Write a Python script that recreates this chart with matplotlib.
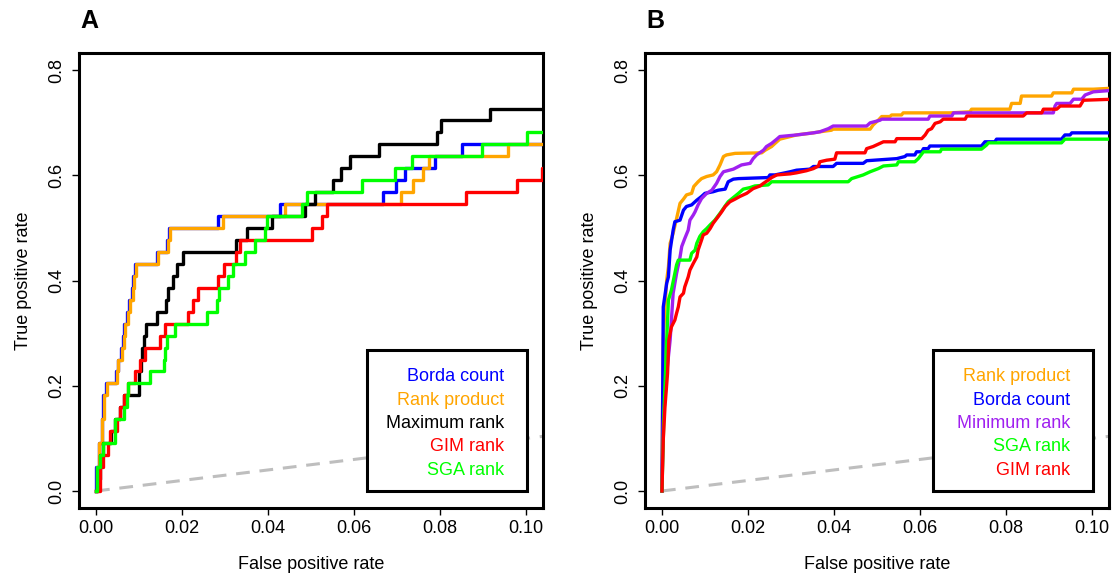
"""Two ROC panels comparing rank aggregation methods (low false positive region)."""

import matplotlib

matplotlib.use("Agg")
import matplotlib.pyplot as plt
import numpy as np
from matplotlib.patches import Rectangle

plt.rcParams["font.family"] = ["Liberation Sans", "DejaVu Sans"]

# ---------------- panel A: step curves, hits out of 44 positives ----------------
N_POS_A = 44

a_borda_fpr = [0, 0.0001, 0.0006, 0.0013, 0.0017, 0.0023, 0.0046, 0.0050, 0.0058, 0.0062, 0.0065,
               0.0072, 0.0076, 0.0083, 0.0087, 0.0091, 0.0143, 0.0166, 0.0170, 0.0284, 0.0428,
               0.0668, 0.0698, 0.0719, 0.0788, 0.0850, 0.105]
a_borda_hits = [0, 2, 4, 6, 8, 9, 10, 11, 12, 13, 14, 15, 16, 17, 18, 19, 20, 21, 22, 23, 24,
                25, 26, 27, 28, 29, 29]

a_rankprod_fpr = [0, 0.0003, 0.0008, 0.0015, 0.0019, 0.0025, 0.0048, 0.0052, 0.0060, 0.0064, 0.0067,
                  0.0074, 0.0078, 0.0085, 0.0089, 0.0093, 0.0145, 0.0168, 0.0172, 0.0296, 0.0440,
                  0.0709, 0.0738, 0.0760, 0.0774, 0.0959, 0.105]
a_rankprod_hits = [0, 2, 4, 6, 8, 9, 10, 11, 12, 13, 14, 15, 16, 17, 18, 19, 20, 21, 22, 23, 24,
                   25, 26, 27, 28, 29, 29]

a_maxrank_fpr = [0, 0.0004, 0.0010, 0.0017, 0.0036, 0.0045, 0.0056, 0.0064, 0.0101, 0.0104, 0.0108,
                 0.0112, 0.0116, 0.0141, 0.0163, 0.0168, 0.0178, 0.0189, 0.0202, 0.0325, 0.0352,
                 0.0409, 0.0486, 0.0510, 0.0552, 0.0569, 0.0590, 0.0657, 0.0792, 0.0802, 0.0916, 0.105]
a_maxrank_hits = [0, 1, 3, 4, 5, 6, 7, 8, 10, 11, 12, 13, 14, 15, 16, 17, 18, 19, 20, 21, 22,
                  23, 24, 25, 26, 27, 28, 29, 30, 31, 32, 32]

a_gim_fpr = [0, 0.0009, 0.0017, 0.0029, 0.0033, 0.0048, 0.0056, 0.0064, 0.0075, 0.0091, 0.0102,
             0.0114, 0.0149, 0.0160, 0.0215, 0.0226, 0.0238, 0.0284, 0.0298, 0.0326, 0.0335,
             0.0502, 0.0525, 0.0536, 0.0860, 0.0978, 0.1036, 0.105]
a_gim_hits = [0, 2, 3, 4, 5, 6, 7, 8, 9, 10, 11, 12, 13, 14, 15, 16, 17, 18, 19, 20, 21,
              22, 23, 24, 25, 26, 27, 27]

a_sga_fpr = [0, 0.0003, 0.0010, 0.0017, 0.0044, 0.0064, 0.0071, 0.0075, 0.0126, 0.0157, 0.0160,
             0.0166, 0.0184, 0.0257, 0.0281, 0.0287, 0.0307, 0.0319, 0.0347, 0.0370, 0.0393,
             0.0397, 0.0478, 0.0491, 0.0618, 0.0695, 0.0734, 0.0897, 0.1002, 0.105]
a_sga_hits = [0, 2, 3, 4, 6, 7, 8, 9, 10, 11, 12, 13, 14, 15, 16, 17, 18, 19, 20, 21, 22,
              23, 24, 25, 26, 27, 28, 29, 30, 30]

# ---------------- panel B: ROC vertices (fpr, tpr) ----------------
b_rankprod_fpr = [0, 0.0001, 0.0003, 0.0007, 0.0011, 0.0015, 0.0019, 0.0026, 0.0034, 0.0042, 0.0050,
                  0.0057, 0.0069, 0.0074, 0.0084, 0.0092, 0.0104, 0.0119, 0.0127, 0.0135, 0.0143,
                  0.0150, 0.0170, 0.0232, 0.0240, 0.0255, 0.0263, 0.0274, 0.0313, 0.0352, 0.0367,
                  0.0394, 0.0398, 0.0484, 0.0491, 0.0503, 0.0511, 0.0530, 0.0534, 0.0557, 0.0561,
                  0.0670, 0.0716, 0.0720, 0.0809, 0.0813, 0.0833, 0.0836, 0.0906, 0.0910, 0.0953,
                  0.0957, 0.1003, 0.105]
b_rankprod_tpr = [0, 0.129, 0.287, 0.350, 0.401, 0.426, 0.471, 0.490, 0.518, 0.547, 0.555,
                  0.563, 0.566, 0.579, 0.588, 0.594, 0.598, 0.601, 0.607, 0.620, 0.636,
                  0.639, 0.642, 0.643, 0.648, 0.655, 0.661, 0.669, 0.677, 0.681, 0.683,
                  0.686, 0.688, 0.688, 0.696, 0.705, 0.712, 0.712, 0.715, 0.715, 0.719,
                  0.719, 0.721, 0.726, 0.726, 0.737, 0.737, 0.751, 0.751, 0.757, 0.757,
                  0.764, 0.764, 0.766]

b_borda_fpr = [0, 0.0001, 0.0002, 0.0003, 0.0011, 0.0015, 0.0019, 0.0026, 0.0030, 0.0042, 0.0050,
               0.0057, 0.0069, 0.0081, 0.0092, 0.0100, 0.0119, 0.0131, 0.0147, 0.0154, 0.0166,
               0.0178, 0.0247, 0.0251, 0.0263, 0.0298, 0.0313, 0.0344, 0.0352, 0.0398, 0.0406,
               0.0468, 0.0476, 0.0546, 0.0565, 0.0569, 0.0588, 0.0592, 0.0604, 0.0608, 0.0619,
               0.0623, 0.0743, 0.0751, 0.0774, 0.0778, 0.0929, 0.0937, 0.0949, 0.0953, 0.105]
b_borda_tpr = [0, 0.097, 0.224, 0.350, 0.395, 0.407, 0.458, 0.496, 0.512, 0.515, 0.534,
               0.541, 0.544, 0.553, 0.560, 0.566, 0.569, 0.572, 0.574, 0.588, 0.593,
               0.594, 0.596, 0.601, 0.601, 0.607, 0.610, 0.612, 0.617, 0.617, 0.623,
               0.623, 0.628, 0.632, 0.636, 0.639, 0.639, 0.645, 0.645, 0.651, 0.651,
               0.656, 0.656, 0.664, 0.664, 0.669, 0.669, 0.677, 0.677, 0.681, 0.681]

b_minrank_fpr = [0, 0.0003, 0.0011, 0.0019, 0.0026, 0.0034, 0.0042, 0.0046, 0.0053, 0.0061, 0.0065,
                 0.0073, 0.0077, 0.0084, 0.0092, 0.0104, 0.0116, 0.0127, 0.0135, 0.0143, 0.0166,
                 0.0185, 0.0205, 0.0212, 0.0220, 0.0236, 0.0243, 0.0255, 0.0267, 0.0274, 0.0313,
                 0.0352, 0.0367, 0.0387, 0.0398, 0.0476, 0.0484, 0.0507, 0.0511, 0.0619, 0.0623,
                 0.0674, 0.0678, 0.0910, 0.0914, 0.0918, 0.0949, 0.0957, 0.0976, 0.0984, 0.1003, 0.105]
b_minrank_tpr = [0, 0.129, 0.224, 0.287, 0.376, 0.414, 0.445, 0.465, 0.480, 0.496, 0.515,
                 0.525, 0.531, 0.544, 0.556, 0.566, 0.572, 0.585, 0.598, 0.607, 0.612,
                 0.620, 0.623, 0.632, 0.639, 0.648, 0.655, 0.661, 0.669, 0.674, 0.677,
                 0.681, 0.683, 0.689, 0.694, 0.694, 0.700, 0.705, 0.707, 0.707, 0.713,
                 0.713, 0.719, 0.719, 0.732, 0.737, 0.737, 0.745, 0.745, 0.753, 0.759, 0.762]

b_sga_fpr = [0, 0.0001, 0.0005, 0.0011, 0.0015, 0.0022, 0.0030, 0.0034, 0.0038, 0.0065, 0.0069,
             0.0077, 0.0081, 0.0088, 0.0096, 0.0104, 0.0112, 0.0123, 0.0135, 0.0147, 0.0154,
             0.0166, 0.0178, 0.0189, 0.0205, 0.0216, 0.0247, 0.0255, 0.0433, 0.0441, 0.0468,
             0.0484, 0.0503, 0.0515, 0.0546, 0.0550, 0.0588, 0.0596, 0.0608, 0.0647, 0.0650,
             0.0743, 0.0755, 0.0759, 0.0929, 0.0937, 0.105]
b_sga_tpr = [0, 0.034, 0.160, 0.287, 0.363, 0.382, 0.414, 0.430, 0.439, 0.439, 0.452,
             0.458, 0.471, 0.484, 0.493, 0.499, 0.506, 0.515, 0.528, 0.542, 0.550,
             0.558, 0.566, 0.574, 0.577, 0.580, 0.582, 0.588, 0.588, 0.594, 0.601,
             0.607, 0.613, 0.618, 0.620, 0.626, 0.626, 0.632, 0.645, 0.645, 0.650,
             0.650, 0.658, 0.662, 0.662, 0.669, 0.669]

b_gim_fpr = [0, 0.0003, 0.0007, 0.0013, 0.0016, 0.0022, 0.0030, 0.0034, 0.0038, 0.0042, 0.0050,
             0.0053, 0.0061, 0.0065, 0.0073, 0.0081, 0.0084, 0.0092, 0.0096, 0.0104, 0.0112,
             0.0119, 0.0131, 0.0139, 0.0147, 0.0158, 0.0170, 0.0181, 0.0197, 0.0212, 0.0228,
             0.0236, 0.0247, 0.0255, 0.0267, 0.0298, 0.0313, 0.0336, 0.0352, 0.0364, 0.0367,
             0.0383, 0.0402, 0.0406, 0.0472, 0.0476, 0.0491, 0.0507, 0.0515, 0.0542, 0.0546,
             0.0604, 0.0612, 0.0619, 0.0627, 0.0635, 0.0647, 0.0654, 0.0705, 0.0709, 0.0840,
             0.0848, 0.0883, 0.0887, 0.0918, 0.0926, 0.0972, 0.0980, 0.105]
b_gim_tpr = [0, 0.097, 0.160, 0.224, 0.287, 0.312, 0.325, 0.338, 0.350, 0.369, 0.376,
             0.388, 0.407, 0.420, 0.433, 0.445, 0.458, 0.477, 0.487, 0.490, 0.499,
             0.509, 0.522, 0.531, 0.541, 0.550, 0.555, 0.560, 0.566, 0.575, 0.580,
             0.585, 0.591, 0.596, 0.601, 0.603, 0.605, 0.609, 0.613, 0.618, 0.626,
             0.629, 0.631, 0.643, 0.643, 0.651, 0.655, 0.661, 0.664, 0.664, 0.670,
             0.670, 0.677, 0.686, 0.689, 0.699, 0.702, 0.707, 0.707, 0.713, 0.713,
             0.719, 0.719, 0.726, 0.726, 0.732, 0.732, 0.743, 0.745]

chance = [0, 1]

x_ticks = [0, 0.02, 0.04, 0.06, 0.08, 0.10]
x_labels = ["0.00", "0.02", "0.04", "0.06", "0.08", "0.10"]
y_ticks = [0, 0.2, 0.4, 0.6, 0.8]
y_labels = ["0.0", "0.2", "0.4", "0.6", "0.8"]

BLUE = "#0000FF"
ORANGE = "#FFA500"
BLACK = "#000000"
RED = "#FF0000"
GREEN = "#00FF00"
PURPLE = "#A020F0"
GREY = "#BEBEBE"
LW = 2.4


def style_axes(ax):
    ax.set_xlim(-0.004, 0.104)
    ax.set_ylim(-0.032, 0.832)
    ax.set_xticks(x_ticks)
    ax.set_xticklabels(x_labels)
    ax.set_yticks(y_ticks)
    ax.set_yticklabels(y_labels, rotation=90, va="center")
    ax.tick_params(axis="both", direction="out", length=5, width=1, labelsize=13, color="black")
    ax.tick_params(axis="x", pad=4)
    ax.tick_params(axis="y", pad=5)
    for spine in ax.spines.values():
        spine.set_linewidth(2.2)
    ax.set_xlabel("False positive rate", fontsize=13, va="center")
    ax.set_ylabel("True positive rate", fontsize=13, va="center")
    ax.xaxis.set_label_coords(0.5, -0.124)
    ax.yaxis.set_label_coords(-0.120, 0.5)
    ax.plot(chance, chance, color=GREY, lw=2.2, linestyle=(0, (4.5, 3.2)), zorder=1)


def legend_box(ax, labels, colors):
    ax.add_patch(Rectangle((0.62, 0.036), 0.345, 0.311, transform=ax.transAxes,
                           facecolor="white", edgecolor="black", lw=2.2, zorder=5))
    rows = [0.290, 0.237, 0.186, 0.136, 0.083]
    for y, label, color in zip(rows, labels, colors):
        ax.text(0.916, y, label, transform=ax.transAxes, ha="right", va="center",
                fontsize=13, color=color, zorder=6)


fig = plt.figure(figsize=(11.13, 5.74), dpi=100)
ax_a = fig.add_axes([0.0708, 0.1153, 0.4173, 0.7916])
ax_b = fig.add_axes([0.5793, 0.1153, 0.4173, 0.7916])

# panel A
style_axes(ax_a)
a_series = [
    (a_borda_fpr, a_borda_hits, BLUE),
    (a_rankprod_fpr, a_rankprod_hits, ORANGE),
    (a_maxrank_fpr, a_maxrank_hits, BLACK),
    (a_gim_fpr, a_gim_hits, RED),
    (a_sga_fpr, a_sga_hits, GREEN),
]
for fpr, hits, color in a_series:
    ax_a.step(fpr, np.array(hits) / N_POS_A, where="post", color=color, lw=LW, zorder=3)
legend_box(ax_a, ["Borda count", "Rank product", "Maximum rank", "GIM rank", "SGA rank"],
           [BLUE, ORANGE, BLACK, RED, GREEN])

# panel B
style_axes(ax_b)
b_series = [
    (b_rankprod_fpr, b_rankprod_tpr, ORANGE),
    (b_borda_fpr, b_borda_tpr, BLUE),
    (b_minrank_fpr, b_minrank_tpr, PURPLE),
    (b_sga_fpr, b_sga_tpr, GREEN),
    (b_gim_fpr, b_gim_tpr, RED),
]
for fpr, tpr, color in b_series:
    ax_b.plot(fpr, tpr, color=color, lw=LW, zorder=3)
legend_box(ax_b, ["Rank product", "Borda count", "Minimum rank", "SGA rank", "GIM rank"],
           [ORANGE, BLUE, PURPLE, GREEN, RED])

fig.text(89 / 1113, 1 - 21 / 574, "A", fontsize=18, fontweight="bold", ha="center", va="center")
fig.text(655 / 1113, 1 - 21 / 574, "B", fontsize=18, fontweight="bold", ha="center", va="center")

fig.savefig("out.png", dpi=100, facecolor="white")
